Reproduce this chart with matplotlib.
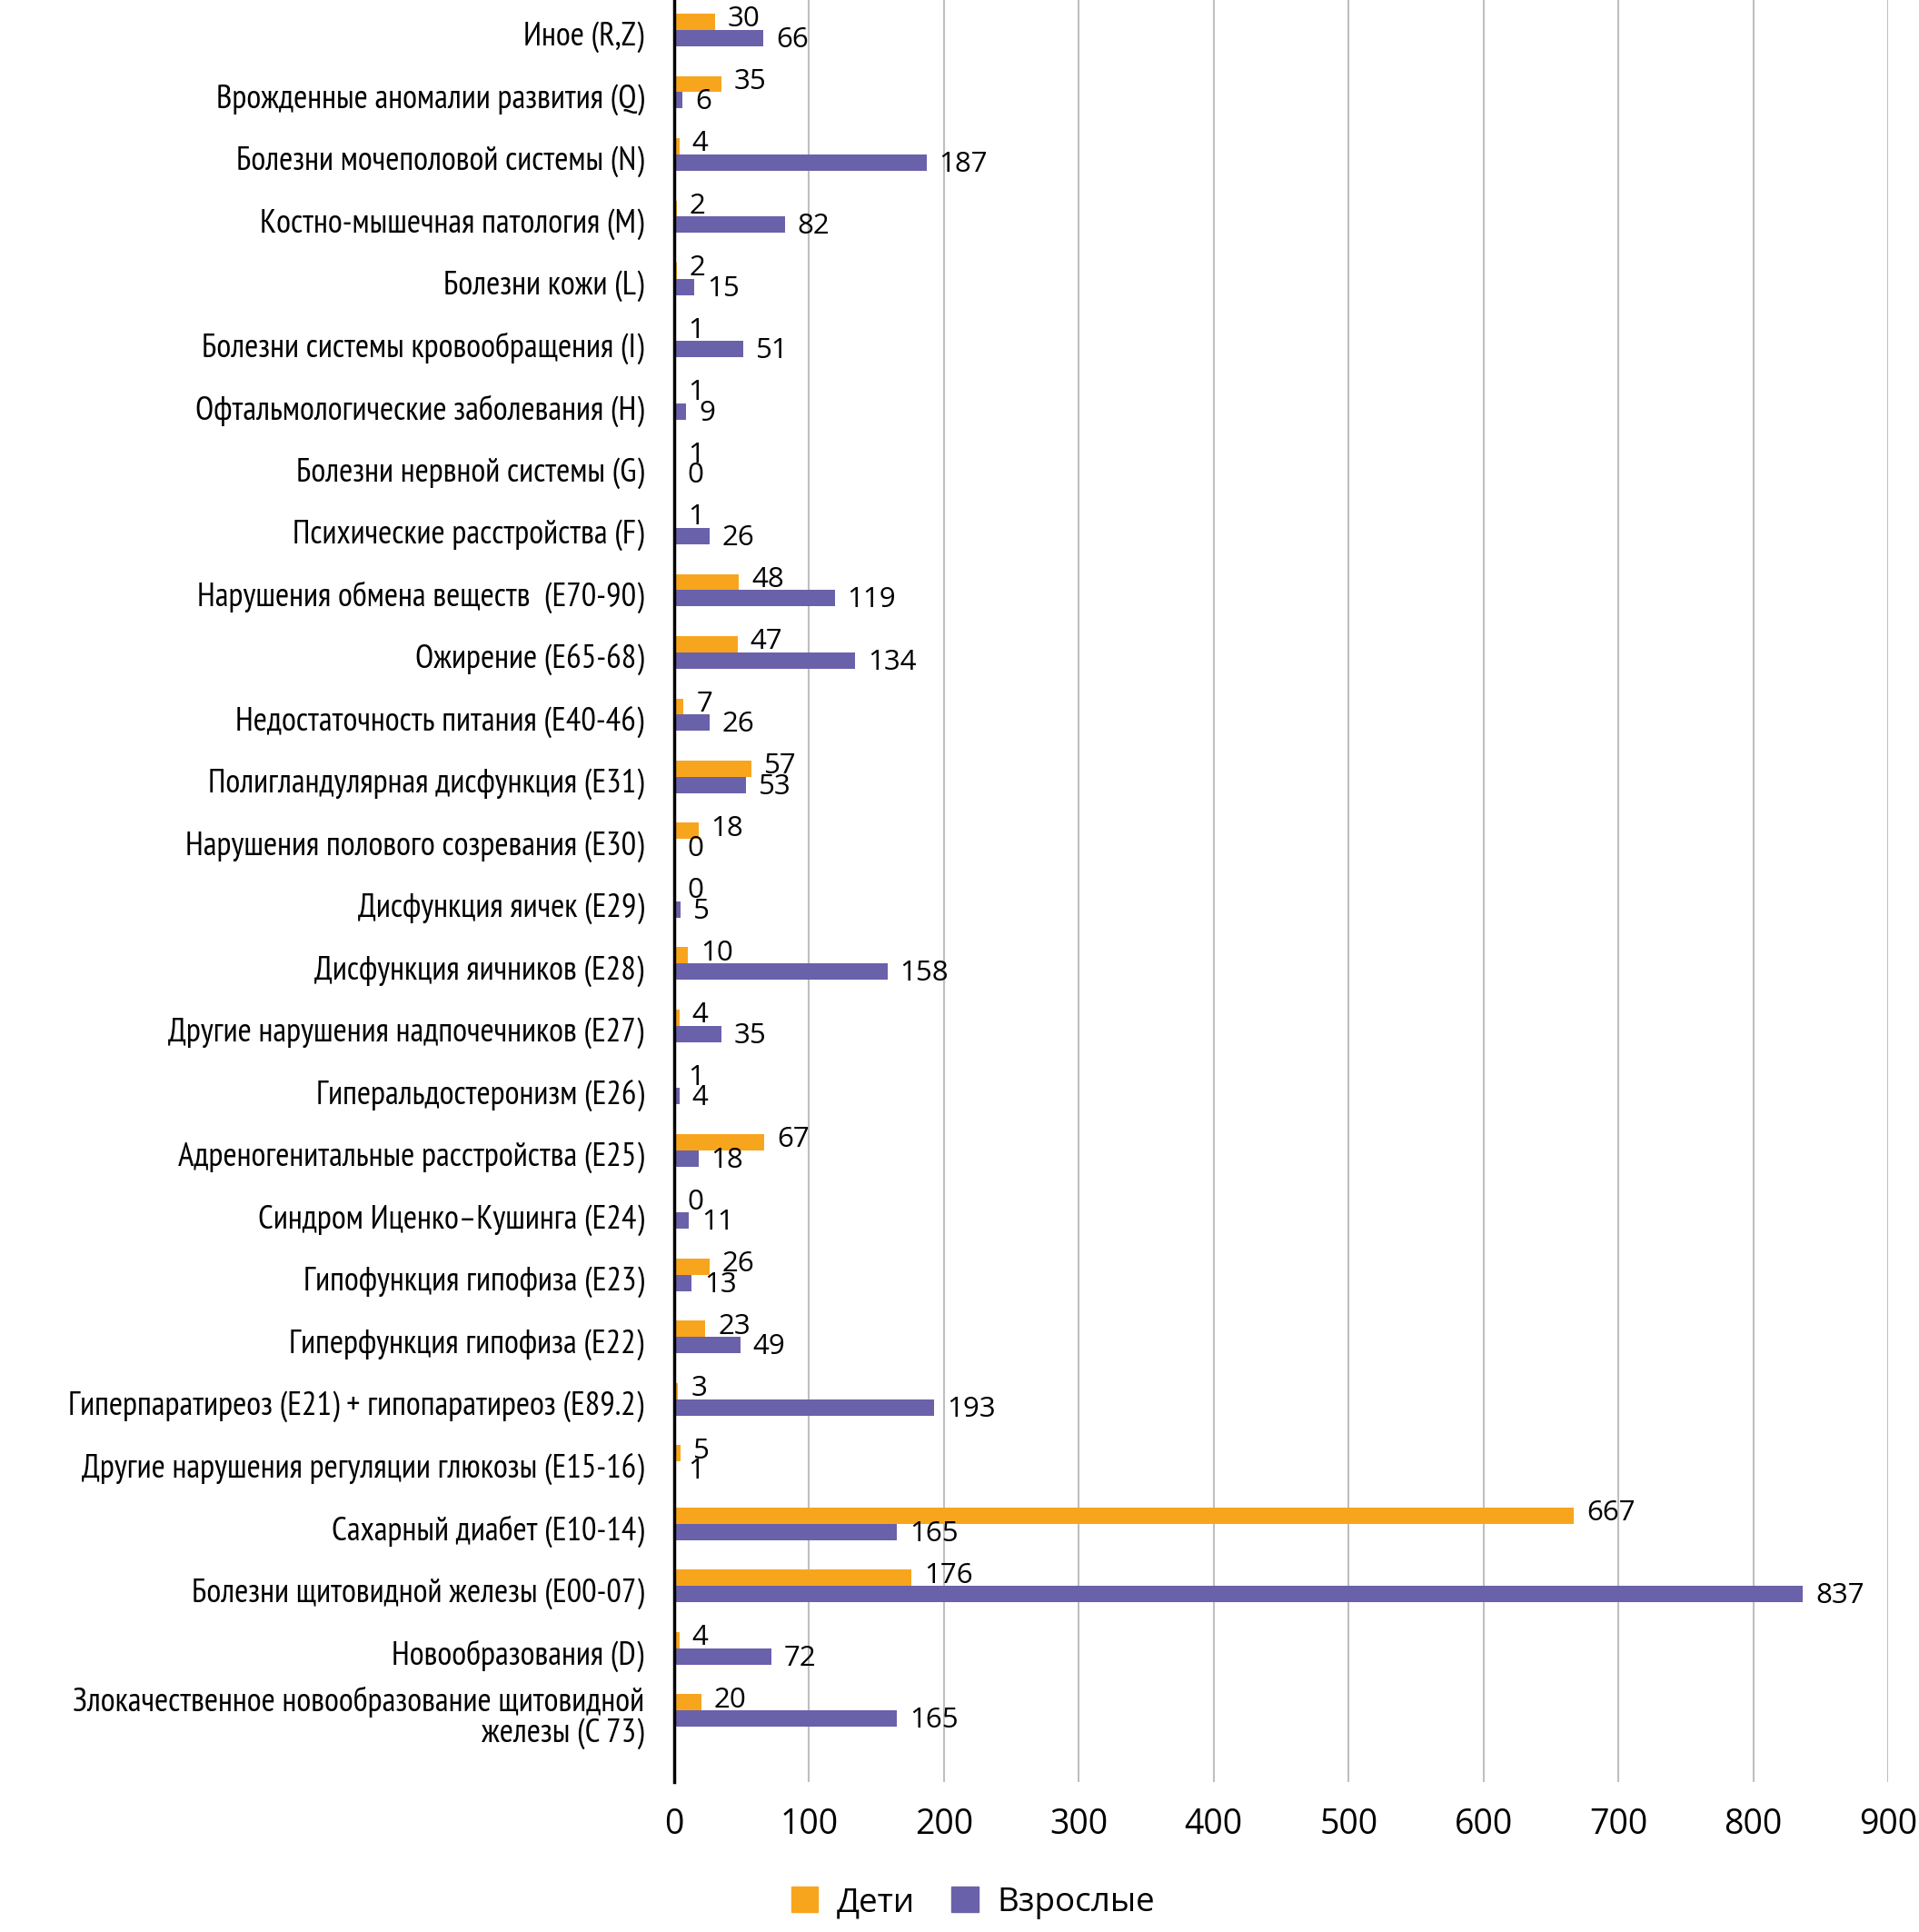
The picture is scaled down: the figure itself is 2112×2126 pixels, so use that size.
import matplotlib
matplotlib.use("Agg")
import matplotlib.pyplot as plt
import numpy as np
from matplotlib import font_manager as fm
from matplotlib.patches import Patch
from matplotlib.transforms import ScaledTranslation

categories = [
    "Иное (R,Z)",
    "Врожденные аномалии развития (Q)",
    "Болезни мочеполовой системы (N)",
    "Костно-мышечная патология (M)",
    "Болезни кожи (L)",
    "Болезни системы кровообращения (I)",
    "Офтальмологические заболевания (H)",
    "Болезни нервной системы (G)",
    "Психические расстройства (F)",
    "Нарушения обмена веществ  (E70-90)",
    "Ожирение (E65-68)",
    "Недостаточность питания (E40-46)",
    "Полигландулярная дисфункция (E31)",
    "Нарушения полового созревания (E30)",
    "Дисфункция яичек (E29)",
    "Дисфункция яичников (E28)",
    "Другие нарушения надпочечников (E27)",
    "Гиперальдостеронизм (E26)",
    "Адреногенитальные расстройства (E25)",
    "Синдром Иценко–Кушинга (E24)",
    "Гипофункция гипофиза (E23)",
    "Гиперфункция гипофиза (E22)",
    "Гиперпаратиреоз (E21) + гипопаратиреоз (E89.2)",
    "Другие нарушения регуляции глюкозы (E15-16)",
    "Сахарный диабет (E10-14)",
    "Болезни щитовидной железы (E00-07)",
    "Новообразования (D)",
    "Злокачественное новообразование щитовидной\nжелезы (C 73)",
]

children = [30, 35, 4, 2, 2, 1, 1, 1, 1, 48, 47, 7, 57, 18, 0, 10, 4, 1, 67, 0,
            26, 23, 3, 5, 667, 176, 4, 20]
adults = [66, 6, 187, 82, 15, 51, 9, 0, 26, 119, 134, 26, 53, 0, 5, 158, 35, 4, 18, 11,
          13, 49, 193, 1, 165, 837, 72, 165]

series_names = ["Дети", "Взрослые"]
xticks = [0, 100, 200, 300, 400, 500, 600, 700, 800, 900]

c_child = "#F8A51E"
c_adult = "#6A61AB"

# condensed face for the category names (the original uses Myriad Condensed)
installed = {f.name for f in fm.fontManager.ttflist}
cat_family, cat_size = "DejaVu Sans", 17
for name, size in [("PT Sans Narrow", 26.5), ("Roboto Condensed", 24),
                   ("Fira Sans Condensed", 24), ("Liberation Sans Narrow", 25)]:
    if name in installed:
        cat_family, cat_size = name, size
        break
cat_font = [cat_family, "DejaVu Sans"]
num_font = ["Open Sans", "DejaVu Sans"]

fig = plt.figure(figsize=(21.12, 21.26), dpi=100)
ax = fig.add_axes([742 / 2112, 1 - 1961 / 2126, (2078 - 742) / 2112, 1961 / 2126])

y = np.arange(len(categories))
h = 0.26
ax.barh(y - h / 2, children, height=h, color=c_child, zorder=3)
ax.barh(y + h / 2, adults, height=h, color=c_adult, zorder=3)

# data labels
for yi, v in zip(y - h / 2, children):
    ax.annotate(str(v), (v, yi), xytext=(10, 2), textcoords="offset points",
                va="center", ha="left", fontsize=22.5, family=num_font)
for yi, v in zip(y + h / 2, adults):
    ax.annotate(str(v), (v, yi), xytext=(10, -1.5), textcoords="offset points",
                va="center", ha="left", fontsize=22.5, family=num_font)

ax.set_xlim(0, 900)
ax.set_ylim(len(categories) - 1 + 1.15, -0.48)
ax.set_xticks(xticks)
ax.set_xticklabels([str(t) for t in xticks], fontsize=27, family=num_font)
ax.set_yticks(y)
ax.set_yticklabels(categories, fontsize=cat_size, family=cat_font, linespacing=1.0)
ax.tick_params(axis="y", length=0, pad=24)
ax.tick_params(axis="x", length=0, pad=20)
for lab in ax.get_yticklabels():
    lab.set_transform(lab.get_transform() + ScaledTranslation(0, -0.04, fig.dpi_scale_trans))

ax.grid(axis="x", color="#BFBFBF", linewidth=1.5, zorder=0)
for s in ["top", "right", "bottom"]:
    ax.spines[s].set_visible(False)
ax.spines["left"].set_linewidth(2.5)
ax.spines["left"].set_zorder(4)

handles = [Patch(color=c_child), Patch(color=c_adult)]
fig.legend(handles, series_names, loc="center", bbox_to_anchor=(0.507, 0.015),
           ncol=2, frameon=False, prop={"family": num_font, "size": 26.5},
           handlelength=0.8, handleheight=0.8, handletextpad=0.55, columnspacing=1.1)

fig.savefig("out.png", dpi=100)
